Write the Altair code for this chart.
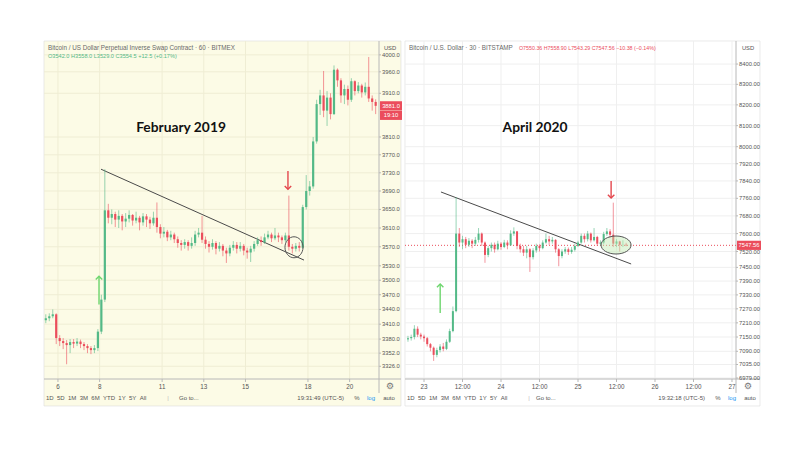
import altair as alt
import pandas as pd

# ---------------- February 2019 : BitMEX XBTUSD (4-hour candles) ----------------
FEB_START_DAY = 5 + 10 / 24      # first candle: 5 Feb, 10:00
FEB_STEP_DAYS = 4 / 24
FEB_FIRST_OPEN = 3418.0
FEB_CLOSE = [3422, 3426, 3430, 3382, 3376, 3372, 3368, 3374, 3371, 3375,
             3370, 3366, 3362, 3358, 3362, 3395, 3460, 3648, 3632, 3640,
             3628, 3636, 3624, 3630, 3638, 3626, 3632, 3622, 3635, 3628,
             3620, 3632, 3612, 3598, 3602, 3590, 3596, 3586, 3578, 3574,
             3580, 3572, 3578, 3596, 3600, 3585, 3576, 3570, 3578, 3566,
             3572, 3562, 3556, 3568, 3574, 3566, 3572, 3562, 3558, 3566,
             3576, 3584, 3580, 3590, 3596, 3588, 3594, 3590, 3584, 3594,
             3570, 3566, 3572, 3568, 3655, 3690, 3700, 3800, 3885, 3905,
             3870, 3900, 3862, 3965, 3940, 3905, 3920, 3895, 3938, 3915,
             3928, 3912, 3925, 3898, 3890, 3881]
FEB_HIGH = [3430, 3432, 3440, 3432, 3388, 3382, 3378, 3380, 3380, 3382,
            3379, 3374, 3370, 3366, 3368, 3400, 3470, 3738, 3662, 3650,
            3645, 3648, 3640, 3642, 3648, 3640, 3645, 3636, 3642, 3640,
            3634, 3645, 3665, 3618, 3612, 3606, 3604, 3600, 3592, 3584,
            3586, 3584, 3590, 3604, 3610, 3636, 3592, 3582, 3586, 3582,
            3580, 3576, 3568, 3574, 3582, 3580, 3580, 3576, 3568, 3572,
            3582, 3590, 3592, 3598, 3604, 3600, 3610, 3600, 3594, 3600,
            3680, 3576, 3578, 3580, 3660, 3725, 3712, 3810, 3895, 3918,
            3962, 3915, 3910, 3975, 3968, 3945, 3930, 3928, 3945, 3940,
            3936, 3932, 3935, 3995, 3905, 3896]
FEB_LOW = [3412, 3416, 3422, 3370, 3366, 3360, 3330, 3352, 3362, 3366,
           3362, 3358, 3352, 3350, 3352, 3356, 3390, 3455, 3620, 3618,
           3612, 3610, 3605, 3612, 3622, 3615, 3620, 3605, 3615, 3612,
           3608, 3615, 3600, 3588, 3590, 3582, 3584, 3578, 3568, 3562,
           3566, 3562, 3566, 3572, 3590, 3578, 3566, 3558, 3564, 3554,
           3560, 3550, 3536, 3550, 3562, 3556, 3560, 3552, 3545, 3538,
           3560, 3572, 3572, 3576, 3586, 3580, 3584, 3580, 3576, 3580,
           3562, 3556, 3560, 3560, 3566, 3650, 3680, 3695, 3795, 3860,
           3855, 3835, 3850, 3860, 3925, 3888, 3885, 3882, 3890, 3905,
           3910, 3900, 3905, 3890, 3870, 3862]
FEB_YTICKS = [4000, 3960, 3910, 3810, 3770, 3730, 3690, 3650, 3610, 3570,
              3530, 3500, 3470, 3440, 3410, 3380, 3352, 3326]
FEB_XTICKS = [6, 8, 11, 13, 15, 18, 20]
FEB_PRICE_LABELS = ["3881.0", "19:10"]
FEB_PRICE_AT = [3881.0, 3881.0]
FEB_TREND_T = [8.066, 17.81]
FEB_TREND_P = [3738, 3542]
FEB_DOWN_ARROW = [17.04, 3734, 3694]   # day, tail price, tip price
FEB_UP_ARROW = [7.97, 3450, 3508]
FEB_CIRCLE = [17.33, 3569]

# ---------------- April 2020 : Bitstamp BTCUSD (1-hour candles) ----------------
APR_START_DAY = 22 + 19 / 24     # first candle: 22 Apr, 19:00
APR_STEP_DAYS = 1 / 24
APR_FIRST_OPEN = 7140.0
APR_CLOSE = [7145, 7150, 7185, 7160, 7152, 7145, 7120, 7105, 7075, 7095,
             7110, 7100, 7130, 7175, 7260, 7600, 7560, 7575, 7550, 7568,
             7555, 7572, 7600, 7560, 7505, 7535, 7550, 7530, 7555, 7540,
             7560, 7548, 7600, 7610, 7545, 7530, 7515, 7530, 7495, 7525,
             7545, 7535, 7560, 7575, 7565, 7572, 7530, 7500, 7520, 7530,
             7518, 7528, 7545, 7560, 7590, 7575, 7600, 7570, 7585, 7555,
             7560, 7598, 7610, 7595, 7555, 7565, 7550, 7550.36, 7547.56]
APR_HIGH = [7155, 7160, 7200, 7195, 7168, 7160, 7150, 7125, 7110, 7105,
            7120, 7125, 7140, 7185, 7280, 7765, 7625, 7590, 7585, 7580,
            7575, 7585, 7625, 7605, 7565, 7545, 7560, 7560, 7568, 7562,
            7572, 7570, 7615, 7628, 7612, 7555, 7545, 7545, 7535, 7535,
            7555, 7552, 7570, 7600, 7590, 7585, 7575, 7535, 7530, 7540,
            7538, 7540, 7555, 7568, 7600, 7600, 7612, 7605, 7625, 7590,
            7570, 7608, 7625, 7620, 7740, 7575, 7568, 7570, 7558.90]
APR_LOW = [7130, 7135, 7140, 7150, 7140, 7130, 7110, 7090, 7050, 7065,
           7085, 7090, 7095, 7125, 7170, 7255, 7540, 7530, 7535, 7540,
           7535, 7545, 7560, 7545, 7470, 7495, 7520, 7515, 7525, 7528,
           7535, 7530, 7545, 7590, 7530, 7515, 7500, 7490, 7430, 7485,
           7515, 7520, 7530, 7555, 7550, 7555, 7515, 7455, 7490, 7510,
           7505, 7510, 7520, 7540, 7555, 7560, 7565, 7560, 7565, 7545,
           7545, 7552, 7590, 7580, 7540, 7540, 7520, 7540, 7543.29]
APR_YTICKS = [8400, 8300, 8200, 8100, 8000, 7920, 7840, 7760, 7680, 7600,
              7520, 7450, 7390, 7330, 7270, 7210, 7150, 7090, 7035, 6979]
APR_XTICKS = [23, 23.5, 24, 24.5, 25, 25.5, 26, 26.5, 27]
APR_PRICE_LABELS = ["7547.56"]
APR_PRICE_AT = [7547.56]
APR_TREND_T = [23.22, 25.69]
APR_TREND_P = [7789, 7465]
APR_DOWN_ARROW = [25.43, 7840, 7761]
APR_UP_ARROW = [23.21, 7252, 7377]
APR_CIRCLE = [25.494, 7549]

TOOLBAR = ["1D", "5D", "1M", "3M", "6M", "YTD", "1Y", "5Y", "All"]

FONT = "Liberation Sans"
UP_C = "#53b987"
DOWN_C = "#eb4d5c"
AXIS_C = "#b8b8b8"
LABEL_C = "#555555"
H = 338


def candles(start, step, first_open, closes, highs, lows):
    opens = [first_open] + list(closes[:-1])
    return pd.DataFrame({
        "t": [start + i * step for i in range(len(closes))],
        "o": opens, "h": highs, "l": lows, "c": closes,
        "dir": ["up" if c >= o else "down" for o, c in zip(opens, closes)],
    })


def build_panel(p):
    W, AX = p["W"], p["AX"]
    xs = alt.Scale(domain=p["xdom"], nice=False, zero=False)
    ys = alt.Scale(type="log", domain=p["ydom"], nice=False)
    one = pd.DataFrame({"k": [0]})

    def X(f):
        return alt.X(f, type="quantitative", scale=xs, axis=None)

    def Y(f):
        return alt.Y(f, type="quantitative", scale=ys, axis=None)

    color = alt.Color("dir:N", scale=alt.Scale(domain=["up", "down"], range=[UP_C, DOWN_C]), legend=None)
    ytick_df = pd.DataFrame({"p": p["yticks"], "lab": [p["yfmt"].format(v) for v in p["yticks"]]})
    xtick_df = pd.DataFrame({"t": p["xticks"], "lab": [p["xfmt"](v) for v in p["xticks"]]})
    L = []
    # panel background (plot + axis column + toolbar)
    L.append(alt.Chart(one).mark_rect(fill=p["bg"], stroke="#dcdcdc", strokeWidth=0.6).encode(
        x=alt.value(0), x2=alt.value(W + AX), y=alt.value(0), y2=alt.value(H + 27)))
    # grid
    L.append(alt.Chart(ytick_df).mark_rule(color=p["grid"], strokeWidth=1).encode(
        y=Y("p"), x=alt.value(0), x2=alt.value(W)))
    L.append(alt.Chart(xtick_df).mark_rule(color=p["grid"], strokeWidth=1).encode(
        x=X("t"), y=alt.value(0), y2=alt.value(H)))
    # axis lines, ticks and labels
    L.append(alt.Chart(one).mark_rule(color=AXIS_C, strokeWidth=1).encode(
        x=alt.value(W), y=alt.value(0), y2=alt.value(H + 14)))
    L.append(alt.Chart(one).mark_rule(color=AXIS_C, strokeWidth=1).encode(
        x=alt.value(0), x2=alt.value(W + AX), y=alt.value(H)))
    L.append(alt.Chart(ytick_df).mark_rule(color=AXIS_C, strokeWidth=1).encode(
        y=Y("p"), x=alt.value(W), x2=alt.value(W + 2)))
    L.append(alt.Chart(ytick_df).mark_text(font=FONT, fontSize=5.8, color=LABEL_C, align="left",
                                           baseline="middle").encode(
        y=Y("p"), x=alt.value(W + 3), text="lab:N"))
    L.append(alt.Chart(xtick_df).mark_rule(color=AXIS_C, strokeWidth=1).encode(
        x=X("t"), y=alt.value(H), y2=alt.value(H + 3)))
    L.append(alt.Chart(xtick_df).mark_text(font=FONT, fontSize=6.3, color=LABEL_C, align="center",
                                           baseline="middle").encode(
        x=X("t"), y=alt.value(H + 7.5), text="lab:N"))
    # last-price dotted line
    if p["price_line"]:
        L.append(alt.Chart(pd.DataFrame({"p": [p["price_at"][0]]})).mark_rule(
            color=DOWN_C, strokeDash=[1, 2], strokeWidth=1).encode(y=Y("p"), x=alt.value(0), x2=alt.value(W)))
    # trend line
    L.append(alt.Chart(pd.DataFrame({"t": p["trend_t"], "p": p["trend_p"]})).mark_line(
        color="#4a4a4a", strokeWidth=1).encode(x=X("t"), y=Y("p")))
    # candles: wicks then bodies
    df = candles(*p["candles"])
    L.append(alt.Chart(df).mark_rule(strokeWidth=0.8, opacity=0.75).encode(
        x=X("t"), y=Y("l"), y2="h", color=color))
    L.append(alt.Chart(df).mark_rule(strokeWidth=p["bw"], strokeCap="butt").encode(
        x=X("t"), y=Y("o"), y2="c", color=color))
    # circled consolidation
    cx, cp = p["circle"]
    L.append(alt.Chart(pd.DataFrame({"t": [cx], "p": [cp]})).mark_point(
        shape=p["circle_shape"], size=p["circle_size"], filled=True, fill=p["circle_fill"],
        fillOpacity=p["circle_fill_op"], stroke="#555", strokeWidth=1, opacity=1).encode(x=X("t"), y=Y("p")))
    # arrows
    for (t, tail, tip), col in [(p["down_arrow"], "#e4474d"), (p["up_arrow"], "#6ed66e")]:
        d = pd.DataFrame({"t": [t], "a": [tail], "b": [tip]})
        L.append(alt.Chart(d).mark_rule(color=col, strokeWidth=1.4).encode(x=X("t"), y=Y("a"), y2="b"))
        head = "M-1,-1L0,0L1,-1" if tip < tail else "M-1,1L0,0L1,1"
        L.append(alt.Chart(d).mark_point(shape=head, size=42, filled=False, color=col,
                                         strokeWidth=1.4, opacity=1).encode(x=X("t"), y=Y("b")))
    # big title
    L.append(alt.Chart(one).mark_text(font="Lato", fontWeight="bold", fontSize=13.8, color="#111").encode(
        x=alt.value(p["title_x"]), y=alt.value(87), text=alt.value(p["title"])))
    # header texts
    L.append(alt.Chart(one).mark_text(font=FONT, fontSize=6.3, color="#6a6a6a", align="left").encode(
        x=alt.value(4), y=alt.value(7), text=alt.value(p["header"])))
    L.append(alt.Chart(one).mark_text(font=FONT, fontSize=p["ohlc_size"], color=p["ohlc_color"],
                                      align="left").encode(
        x=alt.value(p["ohlc_x"]), y=alt.value(p["ohlc_y"]), text=alt.value(p["ohlc"])))
    # axis column extras
    L.append(alt.Chart(one).mark_text(font=FONT, fontSize=5.8, color=LABEL_C).encode(
        x=alt.value(W + AX / 2), y=alt.value(7), text=alt.value("USD")))
    r = round(4.6 / (AX / 2), 3)
    box = f"M-1,-{r}H1V{r}H-1Z"
    for k, (lab, pr) in enumerate(zip(p["price_labels"], p["price_at"])):
        d = pd.DataFrame({"p": [pr], "lab": [lab]})
        L.append(alt.Chart(d).mark_point(shape=box, size=AX * AX, filled=True, color=DOWN_C,
                                         opacity=1, yOffset=9.5 * k).encode(
            x=alt.value(W + AX / 2 + 1), y=Y("p")))
        L.append(alt.Chart(d).mark_text(font=FONT, fontSize=5.8, color="white", yOffset=9.5 * k).encode(
            x=alt.value(W + AX / 2 + 1), y=Y("p"), text="lab:N"))
    L.append(alt.Chart(one).mark_text(font="DejaVu Sans", fontSize=9, color="#777").encode(
        x=alt.value(W + AX / 2), y=alt.value(H + 7), text=alt.value("\u2699")))
    # bottom toolbar
    tb = dict(font=FONT, fontSize=6, color=LABEL_C, baseline="middle")
    L.append(alt.Chart(one).mark_text(align="left", **tb).encode(
        x=alt.value(2), y=alt.value(H + 19), text=alt.value("\u00a0\u00a0".join(TOOLBAR))))
    L.append(alt.Chart(one).mark_text(align="center", **dict(tb, color="#bbb")).encode(
        x=alt.value(124), y=alt.value(H + 19), text=alt.value("|")))
    L.append(alt.Chart(one).mark_text(align="left", **tb).encode(
        x=alt.value(p["goto_x"]), y=alt.value(H + 19), text=alt.value("Go to...")))
    L.append(alt.Chart(one).mark_text(align="right", **tb).encode(
        x=alt.value(300), y=alt.value(H + 19), text=alt.value(p["clock"])))
    L.append(alt.Chart(one).mark_text(align="center", **tb).encode(
        x=alt.value(313), y=alt.value(H + 19), text=alt.value("%")))
    L.append(alt.Chart(one).mark_text(align="center", **dict(tb, color="#2196f3")).encode(
        x=alt.value(327), y=alt.value(H + 19), text=alt.value("log")))
    L.append(alt.Chart(one).mark_text(align="center", **tb).encode(
        x=alt.value(345), y=alt.value(H + 19), text=alt.value("auto")))
    return alt.layer(*L).properties(width=W, height=H)


feb = dict(
    W=335, AX=22, bg="#fcfbe6", grid="#efedd4",
    xdom=[5.33, 21.41], ydom=[3301, 4033],
    candles=(FEB_START_DAY, FEB_STEP_DAYS, FEB_FIRST_OPEN, FEB_CLOSE, FEB_HIGH, FEB_LOW), bw=2.2,
    xticks=FEB_XTICKS, xfmt=lambda v: str(int(v)),
    yticks=FEB_YTICKS, yfmt="{:.1f}",
    trend_t=FEB_TREND_T, trend_p=FEB_TREND_P,
    down_arrow=FEB_DOWN_ARROW, up_arrow=FEB_UP_ARROW,
    circle=FEB_CIRCLE, circle_shape="M-0.86,0A0.86,1,0,1,1,0.86,0A0.86,1,0,1,1,-0.86,0Z",
    circle_size=441, circle_fill="#ffffff", circle_fill_op=0.0,
    title="February 2019", title_x=137,
    header="Bitcoin / US Dollar Perpetual Inverse Swap Contract \u00b7 60 \u00b7 BITMEX",
    ohlc="O3542.0 H3558.0 L3529.0 C3554.5 +12.5 (+0.17%)", ohlc_color=UP_C, ohlc_x=4, ohlc_y=15,
    ohlc_size=5.6,
    price_labels=FEB_PRICE_LABELS, price_at=FEB_PRICE_AT, price_line=False,
    goto_x=135, clock="19:31:49 (UTC-5)",
)
apr = dict(
    W=331, AX=24, bg="#ffffff", grid="#efefef",
    xdom=[22.753, 27.052], ydom=[6975, 8515],
    candles=(APR_START_DAY, APR_STEP_DAYS, APR_FIRST_OPEN, APR_CLOSE, APR_HIGH, APR_LOW), bw=2.0,
    xticks=APR_XTICKS, xfmt=lambda v: str(int(v)) if v == int(v) else "12:00",
    yticks=APR_YTICKS, yfmt="{:.2f}",
    trend_t=APR_TREND_T, trend_p=APR_TREND_P,
    down_arrow=APR_DOWN_ARROW, up_arrow=APR_UP_ARROW,
    circle=APR_CIRCLE, circle_shape="M-1,0A1,0.6,0,1,1,1,0A1,0.6,0,1,1,-1,0Z",
    circle_size=900, circle_fill="#bfe9b0", circle_fill_op=0.45,
    title="April 2020", title_x=130,
    header="Bitcoin / U.S. Dollar \u00b7 30 \u00b7 BITSTAMP",
    ohlc="O7550.36 H7558.90 L7543.29 C7547.56 \u221210.38 (\u22120.14%)", ohlc_color=DOWN_C,
    ohlc_x=114, ohlc_y=7, ohlc_size=5.3,
    price_labels=APR_PRICE_LABELS, price_at=APR_PRICE_AT, price_line=True,
    goto_x=131, clock="19:32:18 (UTC-5)",
)

chart = alt.hconcat(build_panel(feb), build_panel(apr), spacing=2).resolve_scale(
    x="independent", y="independent"
).properties(
    padding={"left": 43, "top": 40, "right": 10, "bottom": 10}, background="white"
).configure_view(stroke=None)

chart.save("out.html", embed_options={"renderer": "svg", "actions": False})
